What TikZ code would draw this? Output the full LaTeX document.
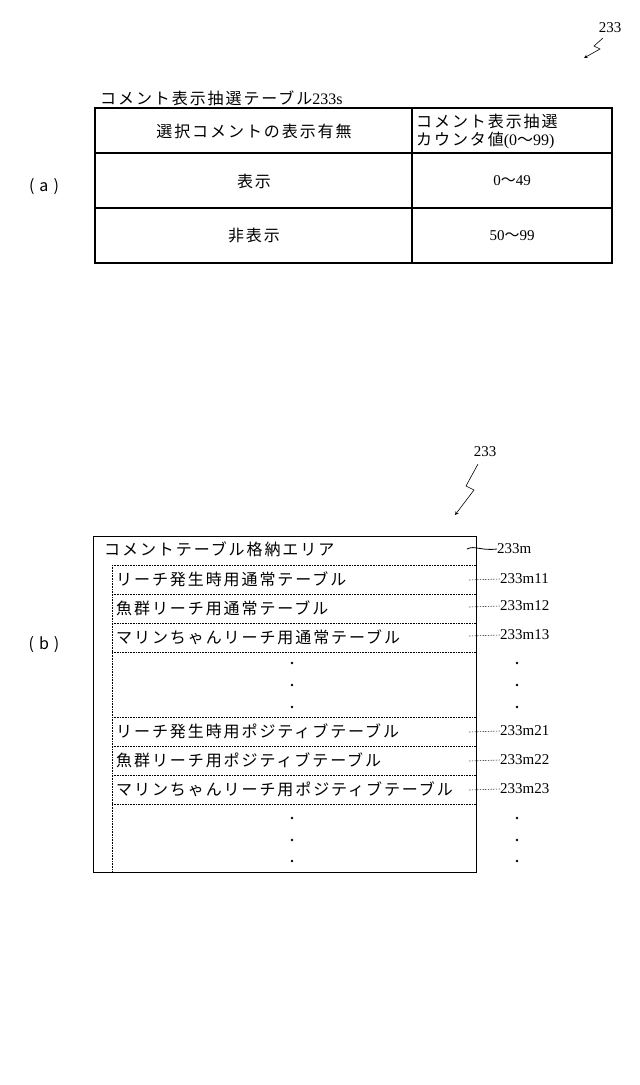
\documentclass[tikz,border=0pt]{standalone}
\usepackage{fontspec}
\setmainfont{Liberation Serif}
\newfontfamily\cjk[LetterSpace=12]{Noto Sans CJK JP}
\newfontfamily\cjkt{Noto Sans CJK JP}
\newcommand{\tl}{{\cjkt 〜}}
\begin{document}
\begin{tikzpicture}[x=1pt,y=-1pt,
  txt/.style={inner sep=0pt,font=\cjk\fontsize{16}{18}\selectfont},
  lbl/.style={inner sep=0pt,anchor=west,font=\fontsize{15}{17}\selectfont},
  thick line/.style={line width=1.6pt},
  dotl/.style={densely dotted,line width=0.6pt},
  arr/.style={-stealth,line width=0.6pt}]
\useasboundingbox (0,0) rectangle (640,1085);
% (a)
\node[txt] (pa) at (44,187) {(\hspace{5pt}a\hspace{5pt})};
\node[txt,anchor=west] (ta) at (100,98) {コメント表示抽選テーブル{\rmfamily 233s}};
\draw[thick line] (95,108) rectangle (612,263);
\draw[thick line] (412,108) -- (412,263);
\draw[thick line] (95,153) -- (612,153);
\draw[thick line] (95,208) -- (612,208);
\node[txt] at (254,131) {選択コメントの表示有無};
\node[txt,anchor=west,align=left] at (416,131) {コメント表示抽選\\カウンタ値{\rmfamily (0\tl99)}};
\node[txt] at (254,181) {表示};
\node[txt] at (254,236) {非表示};
\node[lbl,anchor=center] at (512,181) {0\tl49};
\node[lbl,anchor=center] at (512,236) {50\tl99};
\node[lbl,anchor=center] (n233a) at (610,28) {233};
\coordinate (ea) at (584,58);
\draw[arr] (603,38) -- (594,46) -- (600,49) -- (ea);
% (b)
\node[txt] (pb) at (44,645) {(\hspace{5pt}b\hspace{5pt})};
\node[lbl,anchor=center] (n233b) at (485,452) {233};
\coordinate (eb) at (455,515);
\draw[arr] (478,464) -- (466,486) -- (474,490) -- (eb);
\draw[line width=0.8pt] (93,536) rectangle (476,872);
\draw[dotl] (112,565) -- (112,872);
\foreach \y in {565,594,623,652,717,746,775,804} \draw[dotl] (112,\y) -- (476,\y);
\node[txt,anchor=west] (m) at (104,549) {コメントテーブル格納エリア};
\node[txt,anchor=west] (m11) at (116,579) {リーチ発生時用通常テーブル};
\node[txt,anchor=west] (m12) at (116,608) {魚群リーチ用通常テーブル};
\node[txt,anchor=west] (m13) at (116,637) {マリンちゃんリーチ用通常テーブル};
\node[txt,anchor=west] (m21) at (116,731) {リーチ発生時用ポジティブテーブル};
\node[txt,anchor=west] (m22) at (116,760) {魚群リーチ用ポジティブテーブル};
\node[txt,anchor=west] (m23) at (116,789) {マリンちゃんリーチ用ポジティブテーブル};
\foreach \y in {663,685,707,818,840,861} {\fill (292,\y) circle (1.3); \fill (517,\y) circle (1.3);}
\node[lbl] (l0) at (497,549) {233m};
\draw[line width=0.8pt] (467,549) .. controls (475,545) and (480,551) .. (l0.west);
\foreach \n/\y/\t in {1/579/233m11,2/606/233m12,3/635/233m13,4/731/233m21,5/760/233m22,6/789/233m23}{
  \node[lbl] (l\n) at (500,\y) {\t};
  \draw[dotl] (469,\y+1) -- (l\n.west);
}
\end{tikzpicture}
\end{document}
